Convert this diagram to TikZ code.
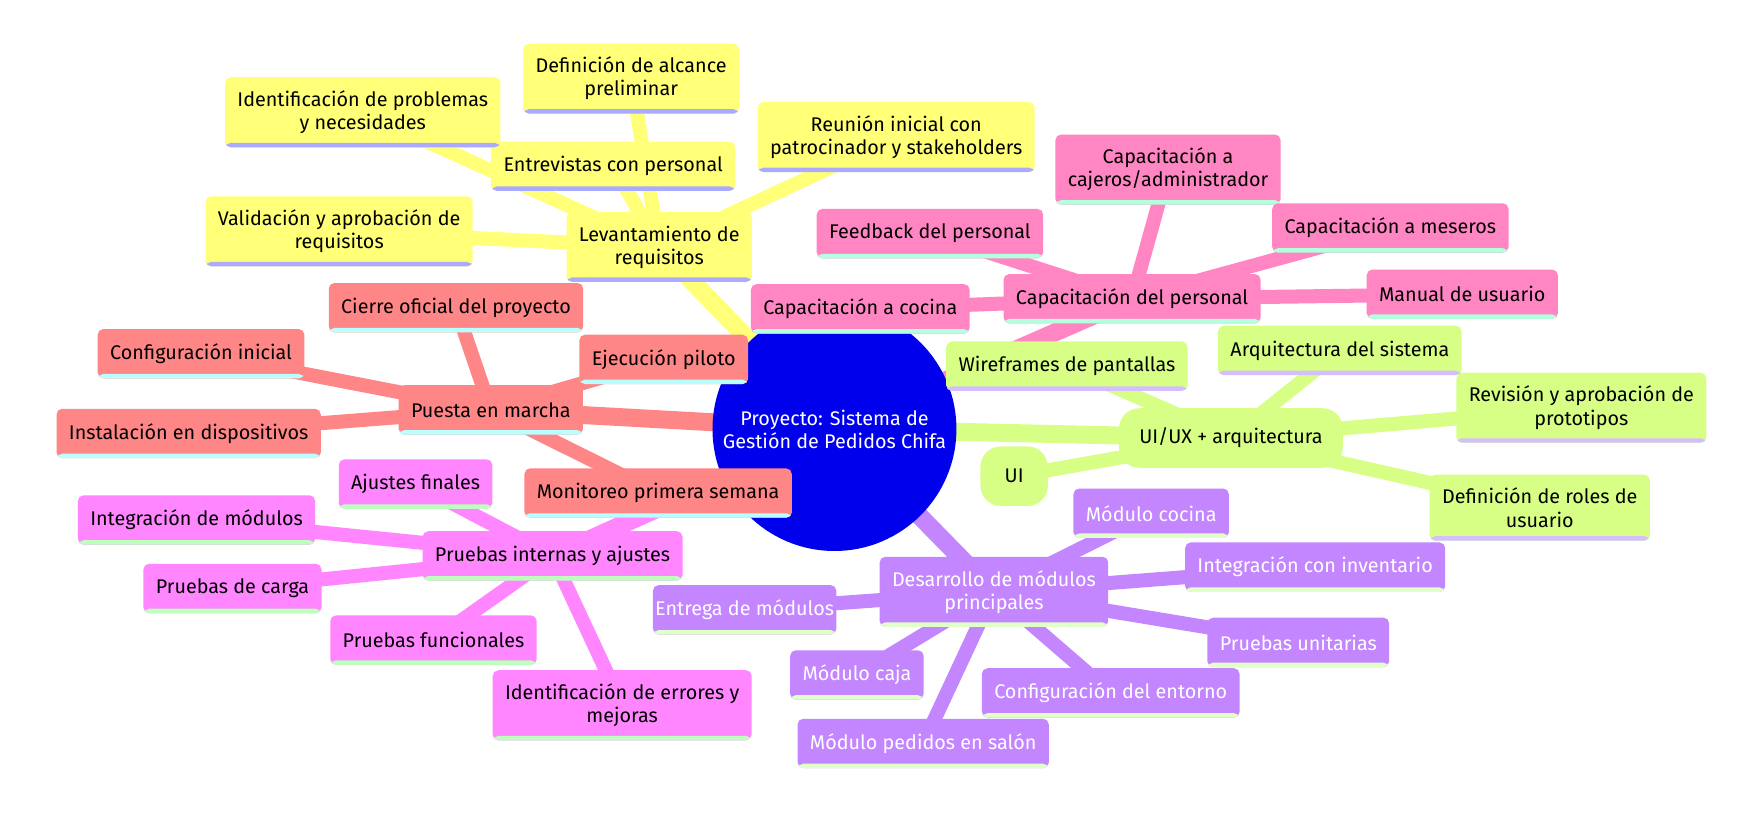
\documentclass[tikz,border=0pt]{standalone}
\usepackage{fontspec}
\setmainfont{Fira Sans}
\usetikzlibrary{positioning, backgrounds}

\definecolor{rootblue}{RGB}{0,0,236}
\definecolor{fillyellow}{RGB}{255,255,120}
\definecolor{lineyellow}{RGB}{170,170,255}
\definecolor{fillred}{RGB}{255,134,134}
\definecolor{linered}{RGB}{185,255,255}
\definecolor{fillpink}{RGB}{255,134,195}
\definecolor{linepink}{RGB}{180,255,222}
\definecolor{fillmagenta}{RGB}{255,134,255}
\definecolor{linemagenta}{RGB}{190,255,190}
\definecolor{fillpurple}{RGB}{195,134,255}
\definecolor{linepurple}{RGB}{225,255,200}
\definecolor{fillgreen}{RGB}{215,255,134}
\definecolor{linegreen}{RGB}{212,190,255}

\tikzset{
    idea/.style={rectangle, rounded corners=2.5pt, align=center, inner xsep=5.5pt, inner ysep=6pt,
        minimum height=22pt, font=\fontsize{8.8}{10.3}\selectfont},
    topic/.style 2 args={idea, fill=#1, path picture={
        \fill[#2] ([yshift=2pt]path picture bounding box.south west) rectangle (path picture bounding box.south east);}},
    req/.style={topic={fillyellow}{lineyellow}},
    launch/.style={topic={fillred}{linered}},
    training/.style={topic={fillpink}{linepink}},
    testing/.style={topic={fillmagenta}{linemagenta}},
    devel/.style={topic={fillpurple}{linepurple}, text=white},
    design/.style={topic={fillgreen}{linegreen}},
    bubble/.style={idea, fill=fillgreen, rounded corners=9pt, minimum height=26.5pt},
    branch/.style={line width=8pt},
    twig/.style={line width=6.25pt}
}

\begin{document}
\begin{tikzpicture}[x=0.5pt, y=-0.5pt]

    \useasboundingbox (0,0) rectangle (1568,727);

    % root
    \node[circle, fill=rootblue, text=white, minimum size=107pt, align=center,
        font=\fontsize{8.8}{10.3}\selectfont] (root) at (743,382)
        {Proyecto: Sistema de\\Gestión de Pedidos Chifa};

    % requirements
    \node[req] (lev) at (587,220) {Levantamiento de\\requisitos};
    \node[req] (entrev) at (546,148) {Entrevistas con personal};
    \node[req] (defin) at (562,70) {Definición de alcance\\preliminar};
    \node[req] (ident) at (323,100) {Identificación de problemas\\y necesidades};
    \node[req] (valid) at (302,206) {Validación y aprobación de\\requisitos};
    \node[req] (reunion) at (798,122) {Reunión inicial con\\patrocinador y stakeholders};

    % launch
    \node[launch] (puesta) at (437,365) {Puesta en marcha};
    \node[launch] (cierre) at (406,274) {Cierre oficial del proyecto};
    \node[launch] (config) at (179,315) {Configuración inicial};
    \node[launch] (instal) at (168,386) {Instalación en dispositivos};
    \node[launch] (ejec) at (591,320) {Ejecución piloto};
    \node[launch] (monit) at (586,439) {Monitoreo primera semana};

    % training
    \node[training] (capper) at (1008,266) {Capacitación del personal};
    \node[training] (capcoc) at (766,275) {Capacitación a cocina};
    \node[training] (feedback) at (828,208) {Feedback del personal};
    \node[training] (capcaj) at (1040,151) {Capacitación a\\cajeros/administrador};
    \node[training] (capmes) at (1238,203) {Capacitación a meseros};
    \node[training] (manual) at (1302,262) {Manual de usuario};

    % testing
    \node[testing] (pruebas) at (492,495) {Pruebas internas y ajustes};
    \node[testing] (ajustes) at (370,431) {Ajustes finales};
    \node[testing] (integmod) at (175,463) {Integración de módulos};
    \node[testing] (carga) at (207,524) {Pruebas de carga};
    \node[testing] (funcion) at (386,570) {Pruebas funcionales};
    \node[testing] (identerr) at (554,628) {Identificación de errores y\\mejoras};

    % development
    \node[devel] (desarr) at (885,527) {Desarrollo de módulos\\principales};
    \node[devel] (cocina) at (1025,457) {Módulo cocina};
    \node[devel] (inventario) at (1171,505) {Integración con inventario};
    \node[devel] (unit) at (1156,572) {Pruebas unitarias};
    \node[devel] (entorno) at (989,617) {Configuración del entorno};
    \node[devel] (salon) at (822,662) {Módulo pedidos en salón};
    \node[devel] (caja) at (763,601) {Módulo caja};
    \node[devel, inner xsep=1pt] (entrega) at (663,543) {Entrega de módulos};

    % design
    \node[bubble, inner xsep=9pt] (uiux) at (1096,390) {UI/UX + arquitectura};
    \node[bubble, minimum width=30pt] (ui) at (903,424) {UI};
    \node[design] (wire) at (950,326) {Wireframes de pantallas};
    \node[design] (arqui) at (1193,312) {Arquitectura del sistema};
    \node[design] (revision) at (1408,363) {Revisión y aprobación de\\prototipos};
    \node[design] (roles) at (1371,452) {Definición de roles de\\usuario};

    % paths
    \begin{pgfonlayer}{background}
        \draw[branch, fillyellow] (root.center) -- (lev.center);
        \foreach \n in {entrev, defin, ident, valid, reunion}
            \draw[twig, fillyellow] (lev.center) -- (\n.center);

        \draw[branch, fillred] (root.center) -- (puesta.center);
        \foreach \n in {cierre, config, instal, ejec, monit}
            \draw[twig, fillred] (puesta.center) -- (\n.center);

        \draw[branch, fillpink] (root.center) -- (capper.center);
        \foreach \n in {capcoc, feedback, capcaj, capmes, manual}
            \draw[twig, fillpink] (capper.center) -- (\n.center);

        \draw[branch, fillmagenta] (root.center) -- (pruebas.center);
        \foreach \n in {ajustes, integmod, carga, funcion, identerr}
            \draw[twig, fillmagenta] (pruebas.center) -- (\n.center);

        \draw[branch, fillpurple] (root.center) -- (desarr.center);
        \foreach \n in {cocina, inventario, unit, entorno, salon, caja, entrega}
            \draw[twig, fillpurple] (desarr.center) -- (\n.center);

        \draw[branch, fillgreen] (root.center) -- (uiux.center);
        \foreach \n in {ui, wire, arqui, revision, roles}
            \draw[twig, fillgreen] (uiux.center) -- (\n.center);
    \end{pgfonlayer}

\end{tikzpicture}
\end{document}
